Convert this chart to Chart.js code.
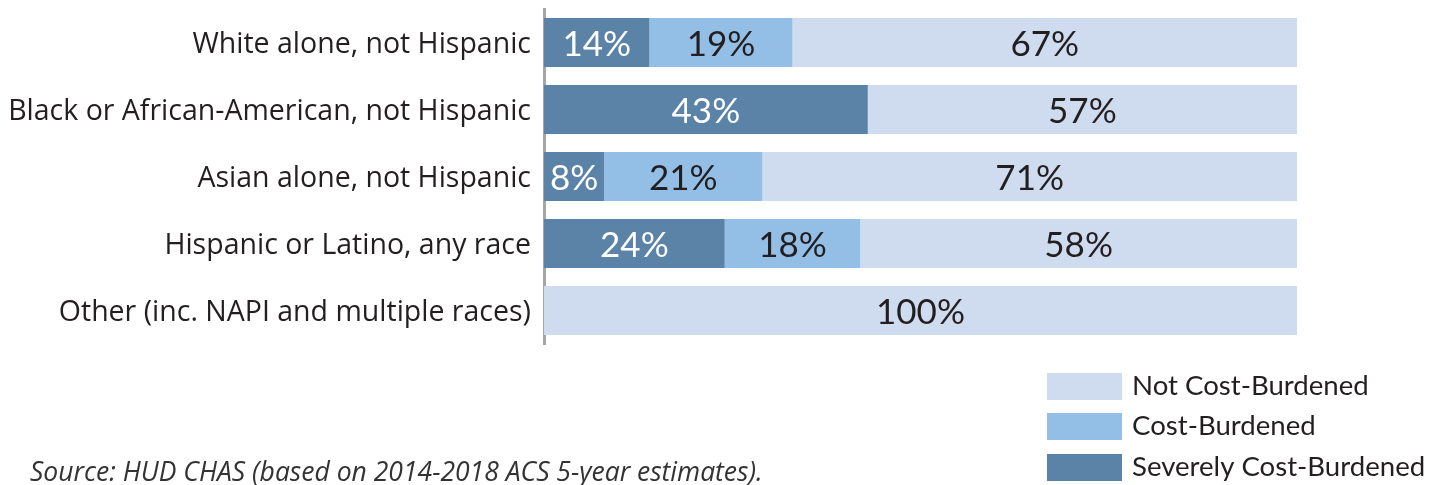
<!DOCTYPE html>
<html>
<head>
<meta charset="utf-8">
<script src="https://cdn.jsdelivr.net/npm/chart.js@4.4.1/dist/chart.umd.min.js"></script>
<style>
  html, body { margin: 0; padding: 0; background: #fff; }
  #wrap { position: relative; width: 1448px; height: 485px; }
  canvas { display: block; }
</style>
</head>
<body>
<div id="wrap"><canvas id="c" width="1448" height="485"></canvas></div>
<script>
// Households by race/ethnicity and housing cost burden (percent)
const categories = [
  "White alone, not Hispanic",
  "Black or African-American, not Hispanic",
  "Asian alone, not Hispanic",
  "Hispanic or Latino, any race",
  "Other (inc. NAPI and multiple races)"
];
const severelyCostBurdened = [14, 43, 8, 24, 0];
const costBurdened = [19, 0, 21, 18, 0];
const notCostBurdened = [67, 57, 71, 58, 100];
const seriesNames = ["Severely Cost-Burdened", "Cost-Burdened", "Not Cost-Burdened"];
const seriesColors = ["#5b83a7", "#93bee6", "#cfdcef"];
const labelColors = ["#ffffff", "#231f20", "#231f20"];
const sourceNote = "Source: HUD CHAS (based on 2014-2018 ACS 5-year estimates).";

const FONT = "Lato, 'Open Sans', sans-serif";

// Percent text centred in every non-empty segment
const segmentLabels = {
  id: "segmentLabels",
  afterDatasetsDraw(chart) {
    const ctx = chart.ctx;
    ctx.save();
    ctx.font = "35px " + FONT;
    ctx.textAlign = "center";
    ctx.textBaseline = "middle";
    chart.data.datasets.forEach((ds, di) => {
      const meta = chart.getDatasetMeta(di);
      meta.data.forEach((bar, i) => {
        const v = ds.data[i];
        if (!v) return;
        const p = bar.getProps(["x", "y", "base"], true);
        ctx.fillStyle = labelColors[di];
        ctx.fillText(v + "%", (p.x + p.base) / 2, p.y + 2);
      });
    });
    ctx.restore();
  }
};

// Legend (listed top to bottom in reverse stacking order) and source note
const extras = {
  id: "extras",
  afterDraw(chart) {
    const ctx = chart.ctx;
    ctx.save();
    const order = [2, 1, 0];
    const x0 = 1047, sw = 75, sh = 27, ys = [373, 413, 454];
    ctx.font = "27.6px " + FONT;
    ctx.textBaseline = "middle";
    ctx.textAlign = "left";
    order.forEach((di, k) => {
      const ds = chart.data.datasets[di];
      ctx.fillStyle = ds.backgroundColor;
      ctx.fillRect(x0, ys[k], sw, sh);
      ctx.fillStyle = "#231f20";
      ctx.fillText(ds.label, x0 + 85, ys[k] + sh / 2);
    });
    ctx.font = "italic 26.5px 'Open Sans', sans-serif";
    ctx.fillStyle = "#333333";
    ctx.textBaseline = "alphabetic";
    ctx.fillText(sourceNote, 30, 481);
    ctx.restore();
  }
};

const datasets = [severelyCostBurdened, costBurdened, notCostBurdened].map((d, i) => ({
  label: seriesNames[i],
  data: d,
  backgroundColor: seriesColors[i],
  borderWidth: 0,
  categoryPercentage: 1.0,
  barPercentage: 0.73
}));

new Chart(document.getElementById("c"), {
  type: "bar",
  data: { labels: categories, datasets },
  options: {
    indexAxis: "y",
    responsive: false,
    animation: false,
    devicePixelRatio: 1,
    layout: { padding: { left: 0, right: 151, top: 9, bottom: 141 } },
    plugins: {
      legend: { display: false },
      tooltip: { enabled: false }
    },
    scales: {
      x: {
        stacked: true,
        min: 0,
        max: 100,
        display: false
      },
      y: {
        stacked: true,
        afterFit(scale) {
          scale.width = 544;
          scale.paddingTop = 0;
          scale.paddingBottom = 0;
        },
        grid: { display: false, drawTicks: false },
        border: { display: true, color: "#a6a6a6", width: 3 },
        ticks: {
          color: "#231f20",
          padding: 13,
          labelOffset: 2,
          font: { family: "'Open Sans', sans-serif", size: 28.5 }
        }
      }
    }
  },
  plugins: [segmentLabels, extras]
});
</script>
</body>
</html>
